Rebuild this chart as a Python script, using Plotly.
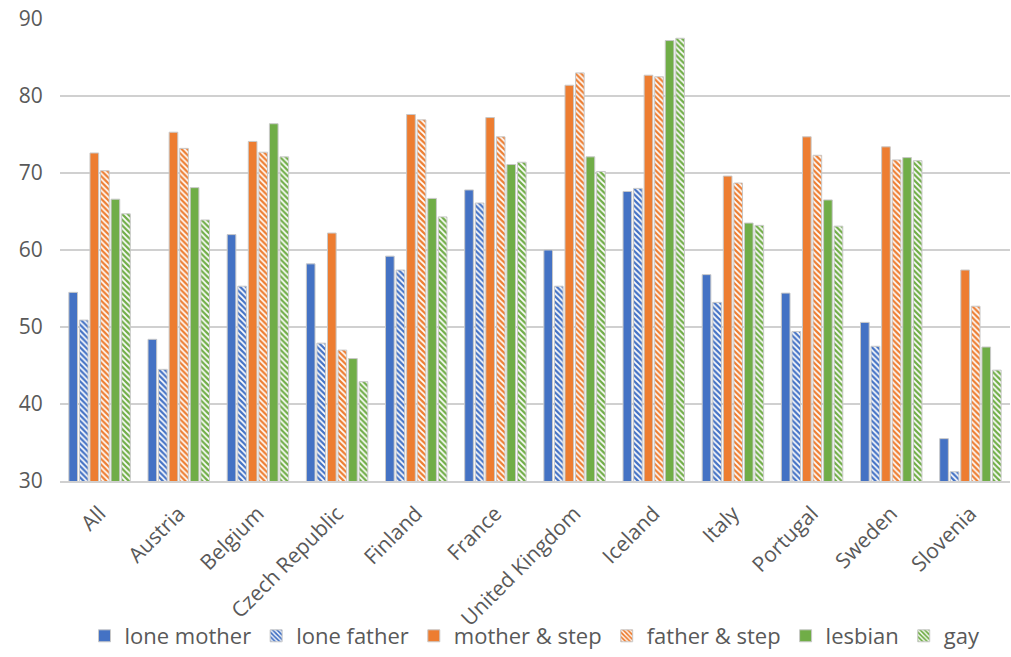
import plotly.graph_objects as go

countries = ["All", "Austria", "Belgium", "Czech Republic", "Finland", "France",
             "United Kingdom", "Iceland", "Italy", "Portugal", "Sweden", "Slovenia"]

lone_mother = [54.5, 48.4, 62.0, 58.2, 59.2, 67.8, 60.0, 67.6, 56.8, 54.4, 50.6, 35.5]
lone_father = [50.9, 44.5, 55.3, 47.9, 57.4, 66.1, 55.3, 68.0, 53.2, 49.4, 47.5, 31.2]
mother_step = [72.6, 75.3, 74.1, 62.2, 77.6, 77.2, 81.4, 82.7, 69.6, 74.7, 73.4, 57.4]
father_step = [70.3, 73.2, 72.7, 47.0, 76.9, 74.7, 83.0, 82.5, 68.7, 72.3, 71.7, 52.7]
lesbian = [66.6, 68.1, 76.4, 45.9, 66.7, 71.1, 72.1, 87.2, 63.5, 66.5, 72.0, 47.4]
gay = [64.7, 63.9, 72.1, 42.9, 64.3, 71.4, 70.2, 87.5, 63.2, 63.1, 71.6, 44.4]

BLUE, ORANGE, GREEN = "#4472C4", "#ED7D31", "#70AD47"

series = [
    ("lone mother", lone_mother, BLUE, False),
    ("lone father", lone_father, BLUE, True),
    ("mother & step", mother_step, ORANGE, False),
    ("father & step", father_step, ORANGE, True),
    ("lesbian", lesbian, GREEN, False),
    ("gay", gay, GREEN, True),
]

fig = go.Figure()
for name, vals, color, hatched in series:
    marker = dict(color=color, line=dict(color="#c8c8c8", width=1))
    if hatched:
        # solid series colour with white downward-diagonal stripes on top
        marker["pattern"] = dict(shape="\\", fgcolor="white", fgopacity=1,
                                 fillmode="overlay", size=4, solidity=0.45)
    fig.add_trace(go.Bar(name=name, x=countries, y=vals, marker=marker))

fig.update_layout(
    width=1011, height=657,
    margin=dict(l=60, r=1, t=19, b=176),
    paper_bgcolor="white", plot_bgcolor="white",
    barmode="group", bargap=0.2, bargroupgap=0.18,
    font=dict(family="Open Sans, sans-serif", color="#595959"),
    showlegend=True,
    legend=dict(orientation="h", x=0.5, xanchor="center",
                yref="container", y=-0.02, yanchor="bottom",
                bgcolor="rgba(0,0,0,0)",
                font=dict(size=22, color="#595959"), itemwidth=30,
                traceorder="normal"),
)
fig.update_yaxes(range=[30, 90], dtick=10, showgrid=True, gridcolor="#d0d0d0",
                 gridwidth=2, zeroline=False, tickfont=dict(size=21, color="#595959"),
                 ticks="outside", ticklen=12, tickcolor="rgba(0,0,0,0)",
                 showline=False, automargin=False)
fig.update_xaxes(tickangle=-45, tickfont=dict(size=21, color="#595959"),
                 showline=True, linecolor="#d0d0d0", linewidth=2, ticks="",
                 ticklabelstandoff=10, automargin=False)

fig.write_html("out.html")
